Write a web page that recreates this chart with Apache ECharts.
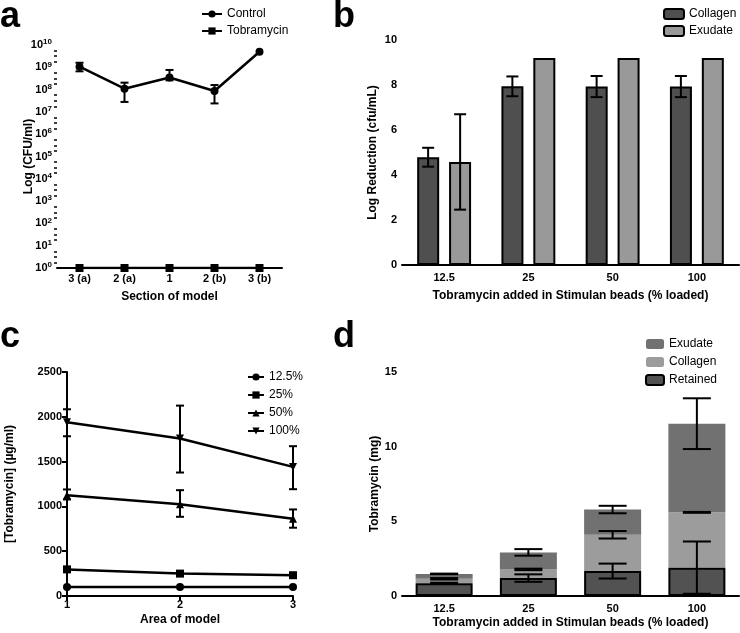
<!DOCTYPE html>
<html>
<head>
<meta charset="utf-8">
<script src="https://cdn.jsdelivr.net/npm/echarts@6/dist/echarts.min.js"></script>
<style>
  html, body { margin: 0; padding: 0; background: #fff; }
  #main { width: 740px; height: 633px; }
</style>
</head>
<body>
<div id="main"></div>
<script>
// a: CFU per section of model (plotted as log10)
const sections = ['3 (a)', '2 (a)', '1', '2 (b)', '3 (b)'];
const controlCfu = [1.07e9, 1.1e8, 3.5e8, 8.7e7, 5.0e9];
const controlLow = [6.6e8, 2.8e7, 2.6e8, 2.4e7, 5.0e9];
const controlHigh = [1.6e9, 2.05e8, 7.6e8, 1.6e8, 5.0e9];
const tobraCfu = [1, 1, 1, 1, 1];

// b: log reduction
const loadings = ['12.5', '25', '50', '100'];
const collagenRed = [4.79, 7.94, 7.93, 7.93];
const collagenRedSd = [0.42, 0.44, 0.47, 0.47];
const exudateRed = [4.58, 9.2, 9.2, 9.2];
const exudateRedSd = [2.12, 0, 0, 0];

// c: tobramycin concentration per area
const areas = [1, 2, 3];
const conc125 = [100, 100, 100];
const conc25 = [297, 250, 232];
const conc50 = [1125, 1025, 862];
const conc50Low = [1077, 884, 762];
const conc50High = [1189, 1181, 966];
const conc100 = [1939, 1757, 1441];
const conc100Low = [1783, 1378, 1192];
const conc100High = [2084, 2125, 1672];

// d: tobramycin mass (stacked)
const retainedMg = [0.85, 1.2, 1.67, 1.9];
const retainedSd = [0.04, 0.25, 0.5, 1.75];
const collagenMg = [0.3, 0.58, 2.43, 3.7];
const collagenSd = [0.05, 0.05, 0.25, 0.03];
const exudateMg = [0.33, 1.14, 1.69, 5.94];
const exudateSd = [0.02, 0.22, 0.25, 1.7];

const FONT = 'Liberation Sans, Arial, Helvetica, sans-serif';
const myChart = echarts.init(document.getElementById('main'));
const lg = v => Math.log10(v);

function errorBars(capW, offset) {
  return function (params, api) {
    const x = api.value(0);
    const lo = api.coord([x, api.value(1)]);
    const hi = api.coord([x, api.value(2)]);
    const cx = lo[0] + (offset || 0);
    const st = { stroke: '#000', lineWidth: 2 };
    return {
      type: 'group',
      children: [
        { type: 'line', shape: { x1: cx, y1: hi[1], x2: cx, y2: lo[1] }, style: st },
        { type: 'line', shape: { x1: cx - capW / 2, y1: hi[1], x2: cx + capW / 2, y2: hi[1] }, style: st },
        { type: 'line', shape: { x1: cx - capW / 2, y1: lo[1], x2: cx + capW / 2, y2: lo[1] }, style: st }
      ]
    };
  };
}

// [x, low, high] rows, skip zero-error points
function meanSd(mean, sd) {
  const out = [];
  mean.forEach((m, i) => { if (sd[i] > 0) out.push([i, m - sd[i], m + sd[i]]); });
  return out;
}
function stackTops(parts) {
  const tops = [];
  parts.forEach((p, k) => p.forEach((v, i) => {
    tops[k] = tops[k] || [];
    tops[k][i] = v + (k > 0 ? tops[k - 1][i] : 0);
  }));
  return tops;
}
const dTops = stackTops([retainedMg, collagenMg, exudateMg]);

const axisBase = {
  axisLine: { lineStyle: { color: '#000', width: 2 } },
  axisTick: { lineStyle: { color: '#000', width: 2 }, length: 5 },
  axisLabel: { color: '#000', fontWeight: 'bold', fontSize: 11, fontFamily: FONT, formatter: v => String(v) },
  splitLine: { show: false },
  nameLocation: 'middle',
  nameMoveOverlap: false,
  nameTextStyle: { color: '#000', fontWeight: 'bold', fontSize: 12, fontFamily: FONT }
};
function ax(extra) {
  return Object.assign({}, axisBase, extra, {
    axisLine: Object.assign({}, axisBase.axisLine, extra.axisLine),
    axisTick: Object.assign({}, axisBase.axisTick, extra.axisTick),
    axisLabel: Object.assign({}, axisBase.axisLabel, extra.axisLabel)
  });
}
const legendText = { color: '#000', fontSize: 12, fontFamily: FONT };

const option = {
  animation: false,
  backgroundColor: '#fff',
  graphic: [
    { type: 'text', left: 0, top: -1, style: { text: 'a', font: 'bold 36px ' + FONT, fill: '#000' } },
    { type: 'text', left: 333, top: -1, style: { text: 'b', font: 'bold 36px ' + FONT, fill: '#000' } },
    { type: 'text', left: 0, top: 319, style: { text: 'c', font: 'bold 36px ' + FONT, fill: '#000' } },
    { type: 'text', left: 333, top: 319, style: { text: 'd', font: 'bold 36px ' + FONT, fill: '#000' } }
  ],
  legend: [
    { orient: 'vertical', left: 196, top: 3, itemWidth: 20, itemHeight: 9, itemGap: 5,
      data: ['Control', 'Tobramycin'], textStyle: legendText },
    { orient: 'vertical', left: 658, top: 3, itemWidth: 20, itemHeight: 10, itemGap: 5,
      data: ['b-Collagen', 'b-Exudate'], textStyle: legendText,
      formatter: n => n.slice(2) },
    { orient: 'vertical', left: 242, top: 366, itemWidth: 16, itemHeight: 9, itemGap: 6,
      data: ['12.5%', '25%', '50%', '100%'], textStyle: legendText },
    { orient: 'vertical', left: 640, top: 333, itemWidth: 18, itemHeight: 10, itemGap: 6,
      data: ['d-Exudate', 'd-Collagen', 'd-Retained'], textStyle: legendText,
      formatter: n => n.slice(2) }
  ],
  grid: [
    { left: 57, top: 45, width: 225, height: 223, outerBoundsMode: 'none' },
    { left: 402, top: 40, width: 337, height: 225, outerBoundsMode: 'none' },
    { left: 67, top: 372, width: 226, height: 224, outerBoundsMode: 'none' },
    { left: 402, top: 372, width: 337, height: 224, outerBoundsMode: 'none' }
  ],
  xAxis: [
    ax({ gridIndex: 0, type: 'category', data: sections, name: 'Section of model', nameGap: 23,
      axisTick: { alignWithLabel: true, length: 4 }, axisLabel: { margin: 5 } }),
    ax({ gridIndex: 1, type: 'category', data: loadings,
      name: 'Tobramycin added in Stimulan beads (% loaded)', nameGap: 25,
      axisTick: { show: false }, axisLabel: { margin: 7 } }),
    ax({ gridIndex: 2, type: 'value', min: 1, max: 3, interval: 1, name: 'Area of model', nameGap: 18,
      axisLabel: { margin: 3 } }),
    ax({ gridIndex: 3, type: 'category', data: loadings,
      name: 'Tobramycin added in Stimulan beads (% loaded)', nameGap: 21,
      axisTick: { show: false }, axisLabel: { margin: 7 } })
  ],
  yAxis: [
    ax({ gridIndex: 0, type: 'value', min: 0, max: 10, interval: 1,
      name: 'Log (CFU/ml)', nameGap: 22,
      minorTick: { show: true, splitNumber: 4, length: 3, lineStyle: { color: '#000', width: 1.5 } },
      axisLabel: {
        margin: 5,
        formatter: v => '{b|10}{s|' + v + '}',
        rich: {
          b: { fontSize: 11, fontWeight: 'bold', fontFamily: FONT, color: '#000', lineHeight: 14 },
          s: { fontSize: 8, fontWeight: 'bold', fontFamily: FONT, color: '#000', verticalAlign: 'top', lineHeight: 8 }
        }
      } }),
    ax({ gridIndex: 1, type: 'value', min: 0, max: 10, interval: 2,
      name: 'Log Reduction (cfu/mL)', nameGap: 23, axisLabel: { margin: 5 } }),
    ax({ gridIndex: 2, type: 'value', min: 0, max: 2500, interval: 500,
      name: '[Tobramycin] (µg/ml)', nameGap: 51, axisLabel: { margin: 5 } }),
    ax({ gridIndex: 3, type: 'value', min: 0, max: 15, interval: 5,
      name: 'Tobramycin (mg)', nameGap: 21, axisLabel: { margin: 5 } })
  ],
  series: [
    // a
    { name: 'Control', type: 'line', xAxisIndex: 0, yAxisIndex: 0, data: controlCfu.map(lg),
      symbol: 'circle', symbolSize: 8, lineStyle: { color: '#000', width: 2.5 },
      itemStyle: { color: '#000' }, z: 3 },
    { name: 'Tobramycin', type: 'line', xAxisIndex: 0, yAxisIndex: 0, data: tobraCfu.map(lg),
      symbol: 'rect', symbolSize: 8, lineStyle: { color: '#000', width: 2.5 },
      itemStyle: { color: '#000' }, z: 3 },
    { type: 'custom', xAxisIndex: 0, yAxisIndex: 0, clip: false, z: 4,
      renderItem: errorBars(8, 0),
      data: controlCfu.map((m, i) => [i, lg(controlLow[i]), lg(controlHigh[i])]).filter(r => r[1] !== r[2]) },
    // b
    { name: 'b-Collagen', type: 'bar', xAxisIndex: 1, yAxisIndex: 1, data: collagenRed,
      barWidth: 22, barGap: '45%',
      itemStyle: { color: '#4f4f4f', borderColor: '#000', borderWidth: 2 } },
    { name: 'b-Exudate', type: 'bar', xAxisIndex: 1, yAxisIndex: 1, data: exudateRed,
      barWidth: 22, barGap: '45%',
      itemStyle: { color: '#999999', borderColor: '#000', borderWidth: 2 } },
    { type: 'custom', xAxisIndex: 1, yAxisIndex: 1, clip: false, z: 4,
      renderItem: errorBars(12, -16), data: meanSd(collagenRed, collagenRedSd) },
    { type: 'custom', xAxisIndex: 1, yAxisIndex: 1, clip: false, z: 4,
      renderItem: errorBars(12, 16), data: meanSd(exudateRed, exudateRedSd) },
    // c
    { name: '12.5%', type: 'line', xAxisIndex: 2, yAxisIndex: 2,
      data: areas.map((a, i) => [a, conc125[i]]), symbol: 'circle', symbolSize: 8,
      lineStyle: { color: '#000', width: 2.5 }, itemStyle: { color: '#000' } },
    { name: '25%', type: 'line', xAxisIndex: 2, yAxisIndex: 2,
      data: areas.map((a, i) => [a, conc25[i]]), symbol: 'rect', symbolSize: 8,
      lineStyle: { color: '#000', width: 2.5 }, itemStyle: { color: '#000' } },
    { name: '50%', type: 'line', xAxisIndex: 2, yAxisIndex: 2,
      data: areas.map((a, i) => [a, conc50[i]]), symbol: 'triangle', symbolSize: 8,
      lineStyle: { color: '#000', width: 2.5 }, itemStyle: { color: '#000' } },
    { name: '100%', type: 'line', xAxisIndex: 2, yAxisIndex: 2,
      data: areas.map((a, i) => [a, conc100[i]]), symbol: 'triangle', symbolRotate: 180, symbolSize: 8,
      lineStyle: { color: '#000', width: 2.5 }, itemStyle: { color: '#000' } },
    { type: 'custom', xAxisIndex: 2, yAxisIndex: 2, clip: false, z: 4,
      renderItem: errorBars(8, 0),
      data: areas.map((a, i) => [a, conc50Low[i], conc50High[i]]) },
    { type: 'custom', xAxisIndex: 2, yAxisIndex: 2, clip: false, z: 4,
      renderItem: errorBars(8, 0),
      data: areas.map((a, i) => [a, conc100Low[i], conc100High[i]]) },
    // d
    { name: 'd-Retained', type: 'bar', stack: 'mass', xAxisIndex: 3, yAxisIndex: 3, data: retainedMg,
      barWidth: 57, itemStyle: { color: '#525252', borderColor: '#000', borderWidth: 2 }, z: 3 },
    { name: 'd-Collagen', type: 'bar', stack: 'mass', xAxisIndex: 3, yAxisIndex: 3, data: collagenMg,
      barWidth: 57, itemStyle: { color: '#9c9c9c' }, z: 2 },
    { name: 'd-Exudate', type: 'bar', stack: 'mass', xAxisIndex: 3, yAxisIndex: 3, data: exudateMg,
      barWidth: 57, itemStyle: { color: '#717171' }, z: 2 },
    { type: 'custom', xAxisIndex: 3, yAxisIndex: 3, clip: false, z: 5,
      renderItem: errorBars(28, 0), data: meanSd(dTops[0], retainedSd) },
    { type: 'custom', xAxisIndex: 3, yAxisIndex: 3, clip: false, z: 5,
      renderItem: errorBars(28, 0), data: meanSd(dTops[1], collagenSd) },
    { type: 'custom', xAxisIndex: 3, yAxisIndex: 3, clip: false, z: 5,
      renderItem: errorBars(28, 0), data: meanSd(dTops[2], exudateSd) }
  ]
};

myChart.setOption(option);
</script>
</body>
</html>
